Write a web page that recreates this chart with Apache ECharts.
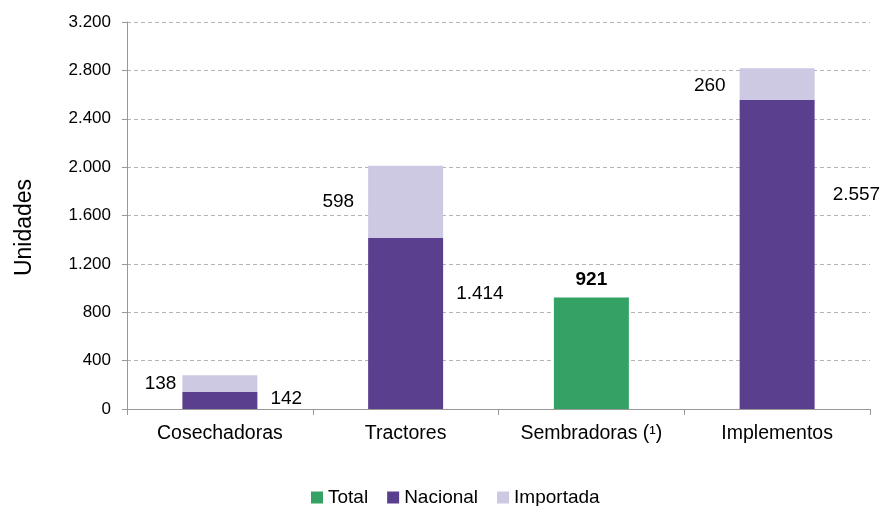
<!DOCTYPE html>
<html>
<head>
<meta charset="utf-8">
<script src="https://cdn.jsdelivr.net/npm/echarts@6/dist/echarts.min.js"></script>
<style>
  html, body { margin: 0; padding: 0; background: #fff; }
  #chart { width: 882px; height: 506px; }
</style>
</head>
<body>
<div id="chart"></div>
<script>
// datos
var categorias = ['Cosechadoras', 'Tractores', 'Sembradoras', 'Implementos'];
var total = [null, null, 921, null];
var nacional = [142, 1414, null, 2557];
var importada = [138, 598, null, 260];

var chart = echarts.init(document.getElementById('chart'));
var fuente = 'Liberation Sans, Arial, sans-serif';

// formato con punto de miles
var fmt = function (v) {
    return String(v).replace(/\B(?=(\d{3})+(?!\d))/g, '.');
};

// ajustes de las etiquetas (como en el original)
var offNac = [[0, -2], [0, -30], [5, -60]];
var offImp = [[0, 0], [0, 0], [0, 2]];
var padImp = [[1, 0, 1, 2], [1, 6, 1, 10], [1, 6, 1, 10]];
var distImp = [6, 8, 8];

var datosNac = [];
var datosImp = [];
var k = 0;
for (var i = 0; i < categorias.length; i++) {
    if (nacional[i] == null) {
        datosNac.push(null);
        datosImp.push(null);
        continue;
    }
    datosNac.push({ value: nacional[i], label: { offset: offNac[k] } });
    datosImp.push({
        value: importada[i],
        label: { offset: offImp[k], padding: padImp[k], distance: distImp[k] }
    });
    k++;
}

var option = {
    animation: false,
    textStyle: { fontFamily: fuente },
    grid: { left: 127, right: 12, top: 22, bottom: 97 },
    legend: {
        left: 306,
        bottom: -6,
        itemWidth: 12,
        itemHeight: 12,
        itemGap: 19,
        icon: 'rect',
        textStyle: { fontSize: 19, color: '#000', fontFamily: fuente },
        data: ['Total', 'Nacional', 'Importada']
    },
    xAxis: {
        type: 'category',
        data: categorias,
        axisLine: { lineStyle: { color: '#999' } },
        axisTick: { show: true, length: 6, lineStyle: { color: '#999' } },
        axisLabel: {
            fontSize: 19.5,
            color: '#000',
            margin: 15,
            fontFamily: fuente,
            formatter: function (v) {
                return v === 'Sembradoras' ? v + ' (\u00b9)' : v;
            }
        }
    },
    yAxis: {
        type: 'value',
        min: 0,
        max: 3200,
        interval: 400,
        name: 'Unidades',
        nameLocation: 'middle',
        nameGap: 91,
        nameRotate: 90,
        nameTextStyle: { fontSize: 23, color: '#000', fontFamily: fuente, padding: [0, 24, 0, 0] },
        axisLine: { show: true, lineStyle: { color: '#999' } },
        axisTick: { show: true, length: 5, lineStyle: { color: '#999' } },
        axisLabel: { fontSize: 17, color: '#000', margin: 16, formatter: fmt, fontFamily: fuente },
        splitLine: { lineStyle: { color: '#b5b5b5', type: [4, 3] } }
    },
    series: [
        {
            name: 'Total',
            type: 'bar',
            stack: 'u',
            barWidth: 75,
            data: total,
            itemStyle: { color: '#35a265' },
            label: {
                show: true,
                position: 'top',
                distance: 8,
                fontSize: 19,
                fontWeight: 'bold',
                color: '#000',
                formatter: function (p) { return fmt(p.value); }
            }
        },
        {
            name: 'Nacional',
            type: 'bar',
            stack: 'u',
            barWidth: 75,
            data: datosNac,
            itemStyle: { color: '#5b3f8f' },
            label: {
                show: true,
                position: 'right',
                distance: 10,
                padding: [1, 3],
                fontSize: 19,
                color: '#000',
                backgroundColor: '#fff',
                formatter: function (p) { return fmt(p.value); }
            }
        },
        {
            name: 'Importada',
            type: 'bar',
            stack: 'u',
            barWidth: 75,
            data: datosImp,
            itemStyle: { color: '#cdc9e3' },
            label: {
                show: true,
                position: 'left',
                fontSize: 19,
                color: '#000',
                backgroundColor: '#fff',
                formatter: function (p) { return fmt(p.value); }
            }
        }
    ]
};

chart.setOption(option);
</script>
</body>
</html>
